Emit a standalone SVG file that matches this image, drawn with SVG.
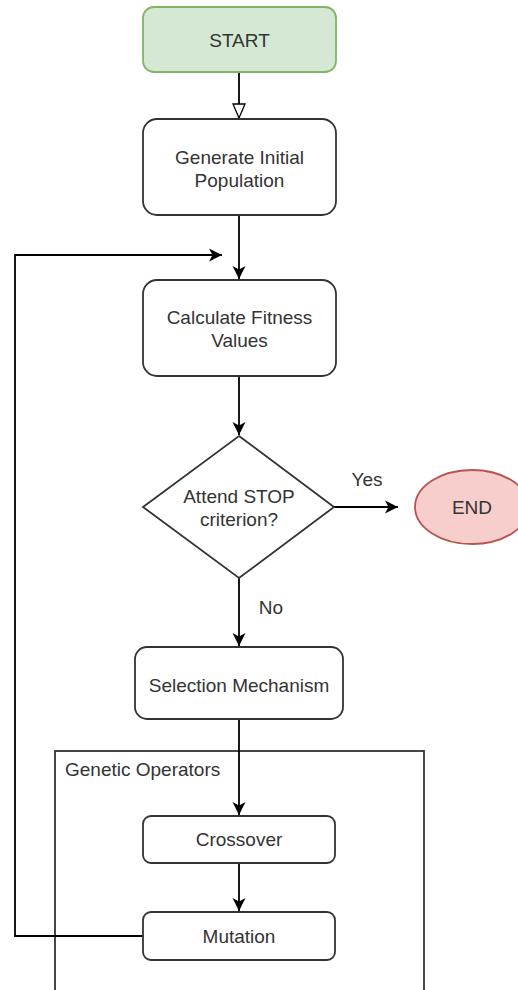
<svg xmlns="http://www.w3.org/2000/svg" width="518" height="990" viewBox="0 0 518 990">
<defs>
<style>
text{font-family:"Liberation Sans",Arial,sans-serif;font-size:19px;fill:#333;text-anchor:middle}
.box{fill:#fff;stroke:#333;stroke-width:1.8}
.ln{fill:none;stroke:#000;stroke-width:1.8}
</style>
<marker id="ar" viewBox="0 0 10 10" refX="9" refY="5" markerWidth="10" markerHeight="10" markerUnits="userSpaceOnUse" orient="auto"><path d="M0,0 L10,5 L0,10 L3,5 Z" fill="#000"/></marker>
<marker id="ar2" viewBox="0 0 14 14" refX="13" refY="7" markerWidth="14" markerHeight="14" markerUnits="userSpaceOnUse" orient="auto"><path d="M0,0.5 L13,7 L0,13.5 L3.5,7 Z" fill="#000"/></marker>
<marker id="open" viewBox="0 0 16 14" refX="15" refY="7" markerWidth="16" markerHeight="14" markerUnits="userSpaceOnUse" orient="auto"><path d="M1,1 L15,7 L1,13 Z" fill="#fff" stroke="#000" stroke-width="1.3"/></marker>
</defs>
<g id="group-genetic-operators">
<rect x="55" y="751" width="369" height="260" fill="none" stroke="#333" stroke-width="1.8"/>
<text x="65" y="776" style="text-anchor:start">Genetic Operators</text>
</g>
<g id="connectors">
<line class="ln" x1="239" y1="72" x2="239" y2="118" marker-end="url(#open)"/>
<line class="ln" x1="239" y1="215" x2="239" y2="279" marker-end="url(#ar2)"/>
<line class="ln" x1="239" y1="376" x2="239" y2="435" marker-end="url(#ar2)"/>
<line class="ln" x1="334" y1="507" x2="398" y2="507" marker-end="url(#ar2)"/>
<line class="ln" x1="239" y1="578" x2="239" y2="646" marker-end="url(#ar2)"/>
<line class="ln" x1="239" y1="719" x2="239" y2="815" marker-end="url(#ar2)"/>
<line class="ln" x1="239" y1="863" x2="239" y2="911" marker-end="url(#ar2)"/>
<polyline class="ln" points="143,936 15,936 15,255 222,255" marker-end="url(#ar2)"/>
<text x="367" y="486">Yes</text>
<text x="271" y="614">No</text>
</g>
<g id="node-start">
<rect x="143" y="7" width="193" height="65" rx="11" fill="#d5e8d4" stroke="#82b366" stroke-width="1.8"/>
<text x="239.5" y="47">START</text>
</g>
<g id="node-generate">
<rect class="box" x="143" y="119" width="193" height="96" rx="14"/>
<text x="239.5" y="164">Generate Initial</text>
<text x="239.5" y="187">Population</text>
</g>
<g id="node-fitness">
<rect class="box" x="143" y="280" width="193" height="96" rx="14"/>
<text x="239.5" y="324">Calculate Fitness</text>
<text x="239.5" y="347">Values</text>
</g>
<g id="node-decision">
<polygon class="box" points="239,436 334,507 239,578 143,507"/>
<text x="239" y="503">Attend STOP</text>
<text x="239" y="526">criterion?</text>
</g>
<g id="node-end">
<ellipse cx="472" cy="507" rx="57" ry="37" fill="#f8cecc" stroke="#b85450" stroke-width="1.8"/>
<text x="472" y="514">END</text>
</g>
<g id="node-selection">
<rect class="box" x="135" y="647" width="208" height="72" rx="12"/>
<text x="239" y="692">Selection Mechanism</text>
</g>
<g id="node-crossover">
<rect class="box" x="143" y="816" width="192" height="47" rx="8"/>
<text x="239" y="846">Crossover</text>
</g>
<g id="node-mutation">
<rect class="box" x="143" y="912" width="192" height="48" rx="8"/>
<text x="239" y="943">Mutation</text>
</g>
</svg>
